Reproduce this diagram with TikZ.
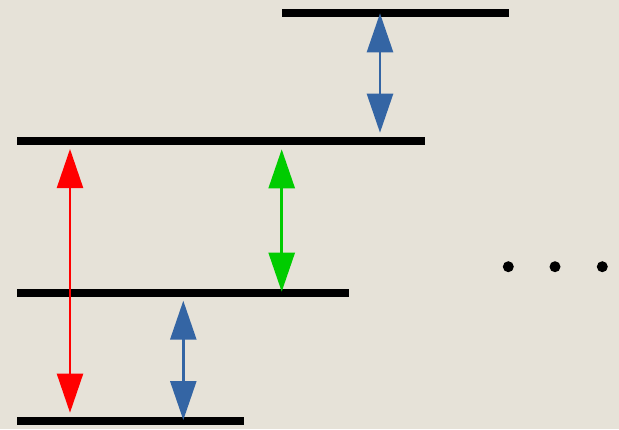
\documentclass[tikz,border=0pt]{standalone}
\usetikzlibrary{arrows.meta}
\definecolor{paper}{RGB}{230,226,216}
\definecolor{ablue}{RGB}{52,101,164}
\definecolor{ared}{RGB}{255,0,0}
\definecolor{agreen}{RGB}{0,204,0}
\tikzset{
  level/.style={line width=8pt, line cap=butt, black},
  trans/.style={line width=2.6pt, {Triangle[length=39pt,width=26pt]}-{Triangle[length=39pt,width=26pt]}},
  dotnode/.style={circle, fill=black, inner sep=0pt, minimum size=11pt}
}
\begin{document}
\begin{tikzpicture}[x=1pt,y=-1pt]
\fill[paper] (0,0) rectangle (619,429);
\useasboundingbox (0,0) rectangle (619,429);
% levels
\coordinate (L1a) at (282,12.7); \coordinate (L1b) at (508.5,12.7);
\coordinate (L2a) at (17,141.3); \coordinate (L2b) at (425.3,141.3);
\coordinate (L3a) at (17,292.7); \coordinate (L3b) at (349,292.7);
\coordinate (L4a) at (17,421);   \coordinate (L4b) at (243.7,421);
\draw[level] (L1a) -- (L1b);
\draw[level] (L2a) -- (L2b);
\draw[level] (L3a) -- (L3b);
\draw[level] (L4a) -- (L4b);
% transitions
\coordinate (b1t) at (380,13.3);  \coordinate (b1b) at (380,132.7);
\coordinate (rt) at (70,149);     \coordinate (rb) at (70,412.7);
\coordinate (gt) at (281.7,149.3);\coordinate (gb) at (281.7,291.7);
\coordinate (b2t) at (183.3,300.7);\coordinate (b2b) at (183.3,420);
\draw[trans, ablue] (b1t) -- (b1b);
\draw[trans, ared, line width=2.2pt] (rt) -- (rb);
\draw[trans, agreen] (gt) -- (gb);
\draw[trans, ablue] (b2t) -- (b2b);
% dots
\node[dotnode] (d1) at (508.3,266.7) {};
\node[dotnode] (d2) at (555,266.7) {};
\node[dotnode] (d3) at (602.3,266.7) {};
\end{tikzpicture}
\end{document}
